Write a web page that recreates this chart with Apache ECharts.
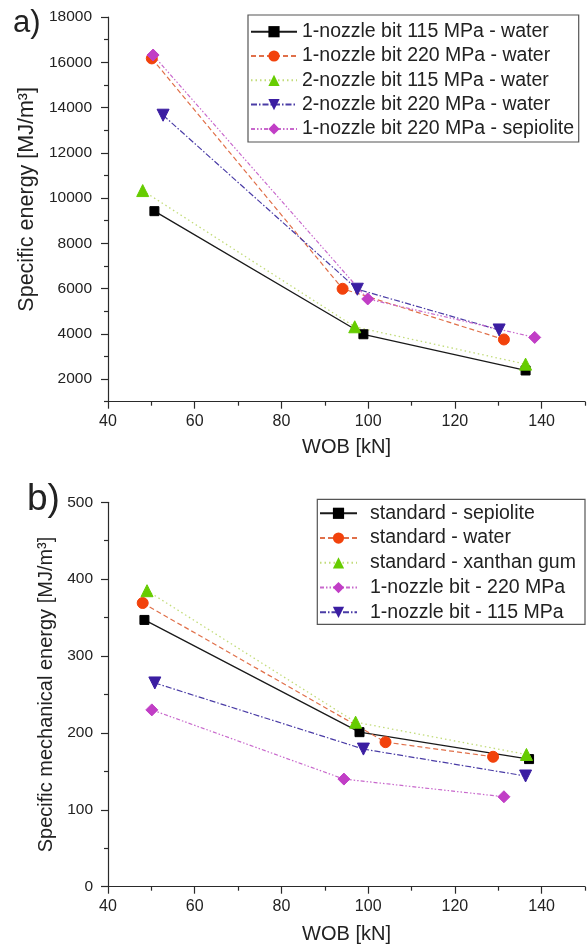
<!DOCTYPE html>
<html>
<head>
<meta charset="utf-8">
<script src="https://cdn.jsdelivr.net/npm/echarts@6/dist/echarts.min.js"></script>
<style>
html,body{margin:0;padding:0;background:#fff;}
#c{width:587px;height:948px;}
</style>
</head>
<body>
<div id="c"></div>
<script>
// ---------- data: panel a ----------
const namesA = [
  '1-nozzle bit 115 MPa - water',
  '1-nozzle bit 220 MPa - water',
  '2-nozzle bit 115 MPa - water',
  '2-nozzle bit 220 MPa - water',
  '1-nozzle bit 220 MPa - sepiolite'
];
const a1 = [[50.7, 9420], [98.9, 3980], [136.3, 2380]];
const a2 = [[50.1, 16170], [94.1, 5990], [131.3, 3750]];
const a3 = [[48.0, 10330], [96.9, 4310], [136.3, 2660]];
const a4 = [[52.7, 13660], [97.5, 5970], [130.2, 4170]];
const a5 = [[50.4, 16320], [99.9, 5540], [138.4, 3840]];

// ---------- data: panel b ----------
const namesB = [
  'standard - sepiolite',
  'standard - water',
  'standard - xanthan gum',
  '1-nozzle bit - 220 MPa',
  '1-nozzle bit - 115 MPa'
];
const b1 = [[48.4, 347], [98.0, 201], [137.1, 166]];
const b2 = [[48.0, 369], [104.0, 188], [128.8, 169]];
const b3 = [[49.0, 385], [97.1, 214], [136.5, 172]];
const b4 = [[50.1, 230], [94.4, 140], [131.3, 117]];
const b5 = [[50.8, 265], [98.9, 179], [136.3, 144]];

// ---------- ticks ----------
const xTicks = [40, 60, 80, 100, 120, 140];
const xMinor = [50, 70, 90, 110, 130, 150];
const yTicksA = [2000, 4000, 6000, 8000, 10000, 12000, 14000, 16000, 18000];
const yMinorA = [1000, 3000, 5000, 7000, 9000, 11000, 13000, 15000, 17000];
const yTicksB = [0, 100, 200, 300, 400, 500];
const yMinorB = [50, 150, 250, 350, 450];

const FONT = 'Liberation Sans, Arial, sans-serif';
const AX = '#2a2a2a';
const TXT = '#222';

// styles per series slot
const styles = [
  {color: '#000000', line: '#1a1a1a', type: 'solid', symbol: 'rect', size: 9, rot: 0, w: 1.3},
  {color: '#f2420c', line: '#e0704a', type: [5, 3], symbol: 'circle', size: 11, rot: 0, w: 1.2},
  {color: '#66cc00', line: '#c2dc7a', type: [1.5, 3], symbol: 'triangle', size: 12, rot: 0, w: 1.3},
  {color: '#3b1ea2', line: '#4a3ca6', type: [6, 2, 1.5, 2], symbol: 'triangle', size: 12, rot: 180, w: 1.2},
  {color: '#c13ec6', line: '#c868cc', type: [4, 2, 1.5, 2, 1.5, 2], symbol: 'diamond', size: 12, rot: 0, w: 1.2}
];
// panel b slot mapping: sepiolite(black sq), water(red circ), xanthan(green tri), 220(magenta dia), 115(purple down tri)
const mapB = [0, 1, 2, 4, 3];

function mkSeries(name, data, st, g) {
  return {
    type: 'line', name: name, data: data,
    xAxisIndex: g * 2, yAxisIndex: g * 2,
    symbol: st.symbol, symbolSize: st.size, symbolRotate: st.rot,
    itemStyle: {color: st.color, borderColor: st.color},
    lineStyle: {color: st.line, width: st.w, type: st.type},
    z: 3
  };
}

function xAxes(g, gap) {
  return [
    {type: 'value', gridIndex: g, min: 40, max: 150, position: 'bottom',
     axisLine: {show: true, onZero: false, lineStyle: {color: AX, width: 1.2}},
     axisTick: {show: true, customValues: xTicks, length: 7, lineStyle: {color: AX, width: 1.2}},
     axisLabel: {customValues: xTicks, fontSize: 16, color: TXT, margin: 12, fontFamily: FONT,
                 formatter: v => String(v)},
     splitLine: {show: false},
     name: 'WOB [kN]', nameLocation: 'middle', nameGap: gap,
     nameTextStyle: {fontSize: 20, color: TXT, fontFamily: FONT}},
    {type: 'value', gridIndex: g, min: 40, max: 150, position: 'bottom',
     axisLine: {show: false, onZero: false},
     axisTick: {show: true, customValues: xMinor, length: 4, lineStyle: {color: AX, width: 1.2}},
     axisLabel: {show: false}, splitLine: {show: false}}
  ];
}

function yAxes(g, mn, mx, ticks, minor, name, gap, nameSize, namePad, lblMargin) {
  return [
    {type: 'value', gridIndex: g, min: mn, max: mx, position: 'left',
     axisLine: {show: true, onZero: false, lineStyle: {color: AX, width: 1.2}},
     axisTick: {show: true, customValues: ticks, length: 7, lineStyle: {color: AX, width: 1.2}},
     axisLabel: {customValues: ticks, fontSize: 15.5, color: TXT, margin: lblMargin, fontFamily: FONT,
                 formatter: v => String(v)},
     splitLine: {show: false},
     name: name, nameLocation: 'middle', nameGap: gap, nameRotate: 90,
     nameTextStyle: {fontSize: nameSize, color: TXT, fontFamily: FONT, padding: namePad}},
    {type: 'value', gridIndex: g, min: mn, max: mx, position: 'left',
     axisLine: {show: false, onZero: false},
     axisTick: {show: true, customValues: minor, length: 4, lineStyle: {color: AX, width: 1.2}},
     axisLabel: {show: false}, splitLine: {show: false}}
  ];
}

const series = [];
[a1, a2, a3, a4, a5].forEach((d, i) => series.push(mkSeries(namesA[i], d, styles[i], 0)));
[b1, b2, b3, b4, b5].forEach((d, i) => series.push(mkSeries(namesB[i], d, styles[mapB[i]], 1)));

const chart = echarts.init(document.getElementById('c'), null, {renderer: 'canvas'});
chart.setOption({
  animation: false,
  backgroundColor: '#fff',
  textStyle: {fontFamily: FONT},
  grid: [
    {left: 108, right: 2, top: 17, bottom: 546.3},
    {left: 108, right: 2, top: 502.3, bottom: 61.3}
  ],
  xAxis: xAxes(0, 36).concat(xAxes(1, 38)),
  yAxis: yAxes(0, 1000, 18000, yTicksA, yMinorA, 'Specific energy [MJ/m³]', 58, 21.5, [0, 0, 0, 20], 16)
    .concat(yAxes(1, 0, 500, yTicksB, yMinorB, 'Specific mechanical energy [MJ/m³]', 45, 20, 0, 15)),
  legend: [
    {data: namesA, orient: 'vertical', left: 250, top: 20.7, padding: 0,
     itemWidth: 46, itemHeight: 14, itemGap: 2.3,
     textStyle: {fontSize: 19.5, lineHeight: 22, color: TXT, fontFamily: FONT}},
    {data: namesB, orient: 'vertical', left: 319, top: 502.3, padding: 0,
     itemWidth: 37, itemHeight: 14, itemGap: 2.75,
     textStyle: {fontSize: 19.5, lineHeight: 22, color: TXT, fontFamily: FONT, padding: [0, 0, 0, 8]}}
  ],
  graphic: [
    {type: 'rect', shape: {x: 248, y: 15, width: 330.7, height: 127},
     style: {fill: null, stroke: '#555', lineWidth: 1.2}, z: 10, silent: true},
    {type: 'rect', shape: {x: 317.3, y: 499.3, width: 267.7, height: 125},
     style: {fill: null, stroke: '#555', lineWidth: 1.2}, z: 10, silent: true},
    {type: 'text', left: 13, top: 8, style: {text: 'a)', font: '31px ' + FONT, fill: '#222'}},
    {type: 'text', left: 27, top: 481, style: {text: 'b)', font: '37px ' + FONT, fill: '#222'}}
  ],
  series: series
});
</script>
</body>
</html>
